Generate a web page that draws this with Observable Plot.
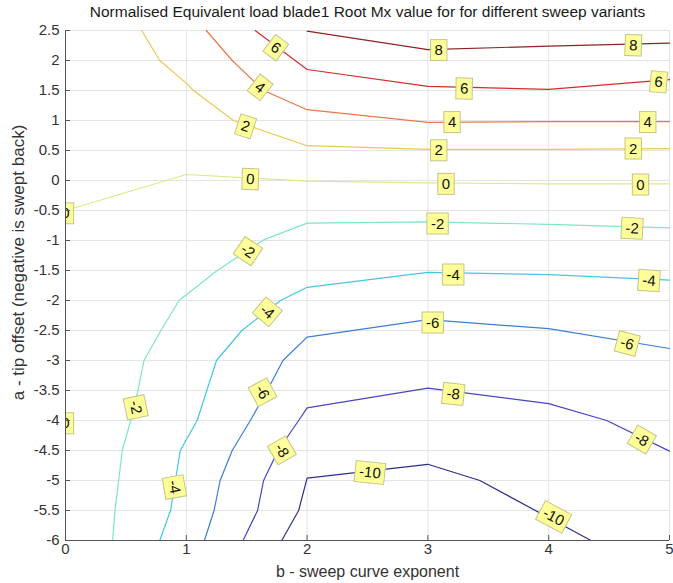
<!DOCTYPE html>
<html><head><meta charset="utf-8">
<script src="https://cdn.jsdelivr.net/npm/d3@7"></script>
<script src="https://cdn.jsdelivr.net/npm/@observablehq/plot@0.6"></script>
<style>
body{margin:0;background:#fff;font-family:"Liberation Sans",Arial,sans-serif;}
</style></head><body>
<div id="chart"></div>
<script>
// contour levels and colours
const levels = [8, 6, 4, 2, 0, -2, -4, -6, -8, -10];
const levelColors = ["#8c2424", "#d42c2c", "#e8784a", "#ecc850", "#d6ec8c", "#7ce6c6", "#44c6e2", "#3c7ed4", "#4646c2", "#2e2e8a"];

// contour polylines [b, a]
const c8 = [[2.0, 2.49], [3, 2.18], [4, 2.24], [5, 2.29]];
const c6 = [[1.57, 2.5], [2, 1.85], [3, 1.57], [4, 1.52], [5, 1.68]];
const c4 = [[1.165, 2.5], [1.38, 2.0], [1.64, 1.5], [2, 1.18], [3, 0.97], [4, 0.98], [5, 0.98]];
const c2 = [[0.63, 2.5], [0.78, 2.0], [0.99, 1.64], [1.06, 1.5], [1.39, 1.0], [2, 0.58], [3, 0.52], [4, 0.52], [5, 0.53]];
const c0 = [[0, -0.5], [1, 0.1], [2, -0.01], [3, -0.04], [4, -0.055], [5, -0.055]];
const cm2 = [[0.39, -6], [0.41, -5.5], [0.44, -5], [0.47, -4.5], [0.54, -4], [0.6, -3.5], [0.65, -3], [0.79, -2.5], [0.94, -2], [1.256, -1.5], [1.64, -0.99], [2, -0.71], [3, -0.69], [4, -0.73], [5, -0.79]];
const cm4 = [[0.78, -6], [0.87, -5.5], [0.91, -5], [0.95, -4.5], [1.09, -4], [1.17, -3.5], [1.25, -3], [1.46, -2.5], [1.78, -2], [2, -1.78], [3, -1.53], [4, -1.57], [5, -1.66]];
const cm6 = [[1.15, -6], [1.23, -5.5], [1.28, -5], [1.38, -4.5], [1.53, -4], [1.67, -3.5], [1.8, -3], [2, -2.61], [3, -2.32], [4, -2.47], [5, -2.8]];
const cm8 = [[1.47, -6], [1.59, -5.5], [1.64, -5], [1.76, -4.5], [1.93, -4], [2, -3.79], [3, -3.46], [4, -3.72], [4.48, -4], [5, -4.51]];
const cm10 = [[1.79, -6], [1.93, -5.5], [2, -4.96], [3, -4.73], [3.43, -5], [4.35, -6]];
const contourPaths = [c8, c6, c4, c2, c0, cm2, cm4, cm6, cm8, cm10];

// inline labels
const labelLevel = [8, 8, 6, 6, 6, 4, 4, 4, 2, 2, 2, 0, 0, 0, 0, 0, -2, -2, -2, -2, -4, -4, -4, -4, -6, -6, -6, -8, -8, -8, -10, -10];
const labelX = [3.09, 4.70, 1.74, 3.30, 4.91, 1.61, 3.20, 4.82, 1.49, 3.09, 4.70, 1.53, 3.15, 4.76, 0, 0, 1.51, 3.08, 4.69, 0.58, 1.67, 3.21, 4.83, 0.90, 1.63, 3.04, 4.65, 1.79, 3.21, 4.77, 2.52, 4.04];
const labelY = [2.17, 2.25, 2.21, 1.53, 1.64, 1.55, 0.97, 0.97, 0.90, 0.50, 0.53, 0.02, -0.06, -0.07, -0.55, -4.05, -1.18, -0.72, -0.80, -3.78, -2.19, -1.57, -1.67, -5.11, -3.53, -2.37, -2.72, -4.50, -3.56, -4.32, -4.87, -5.61];
const labelAngle = [0, 2, 37, 1, 5, 38, 0, 0, 18, 0, 0, 2, 0, 0, 0, 0, 34, 0, 3, 78, 40, 0, 4, 80, 62, 0, 15, 60, 6, 30, 6, 28];

// axes and texts
const xTicks = [0, 1, 2, 3, 4, 5];
const yTicks = [-6, -5.5, -5, -4.5, -4, -3.5, -3, -2.5, -2, -1.5, -1, -0.5, 0, 0.5, 1, 1.5, 2, 2.5];
const title = "Normalised Equivalent load blade1 Root Mx value for for different sweep variants";
const xLabel = "b - sweep curve exponent";
const yLabel = "a - tip offset (negative is swept back)";

const lineData = levels.flatMap((lv, i) => contourPaths[i].map(([x, y]) => ({level: lv, x, y})));
const labels = labelLevel.map((lv, i) => ({level: lv, x: labelX[i], y: labelY[i], angle: labelAngle[i]}));

const font = "Liberation Sans, Arial, sans-serif";
const chart = Plot.plot({
  width: 673,
  height: 583,
  marginLeft: 65,
  marginRight: 4,
  marginTop: 30,
  marginBottom: 43,
  style: {fontFamily: font, fontSize: "15px", background: "#fff"},
  x: {domain: [0, 5]},
  y: {domain: [-6, 2.5]},
  color: {type: "ordinal", domain: levels, range: levelColors},
  marks: [
    Plot.ruleX(xTicks.slice(1), {stroke: "#e4e4e4"}),
    Plot.ruleY(yTicks, {stroke: "#e4e4e4"}),
    Plot.line(lineData, {x: "x", y: "y", z: "level", stroke: "level", strokeWidth: 1.2}),
    Plot.text(labels, {x: "x", y: "y", text: d => String(d.level), rotate: "angle", fontSize: 15, fill: "#111", clip: true}),
    Plot.ruleX([0], {stroke: "#555"}),
    Plot.ruleY([-6], {stroke: "#555"}),
    Plot.axisY({ticks: yTicks, tickSize: 5, dx: 5, tickPadding: 6, tickFormat: d => String(d), label: null, fontSize: 15, color: "#333", stroke: "#555"}),
    Plot.axisX({ticks: xTicks, tickSize: 5, dy: -5, tickPadding: 3, tickFormat: d => String(d), label: null, fontSize: 15, color: "#333", stroke: "#555"}),
    Plot.text([yLabel], {frameAnchor: "left", text: d => d, rotate: -90, dx: -47, dy: -23, textAnchor: "middle", lineAnchor: "middle", fontSize: 17, fill: "#333"}),
    Plot.text([xLabel], {frameAnchor: "bottom", text: d => d, dy: 31, textAnchor: "middle", lineAnchor: "middle", fontSize: 16, fill: "#333"}),
    Plot.text([title], {frameAnchor: "top", text: d => d, dy: -18, textAnchor: "middle", lineAnchor: "middle", fontSize: 15.5, fill: "#1a1a1a"})
  ]
});
document.getElementById("chart").append(chart);

// yellow boxes behind inline labels: find the group holding the label texts
let g = null;
for (const grp of chart.querySelectorAll("g")) {
  const kids = Array.from(grp.children);
  if (kids.length === labels.length && kids.every(k => k.tagName.toLowerCase() === "text") && kids[0].textContent === String(labels[0].level)) { g = grp; break; }
}
if (g) {
  for (const t of Array.from(g.querySelectorAll("text"))) {
    const b = t.getBBox();
    const r = document.createElementNS("http://www.w3.org/2000/svg", "rect");
    r.setAttribute("x", b.x - 4);
    r.setAttribute("y", b.y - 1.5);
    r.setAttribute("width", b.width + 8);
    r.setAttribute("height", b.height + 4);
    const tr = t.getAttribute("transform");
    if (tr) r.setAttribute("transform", tr);
    r.setAttribute("fill", "#ffff99");
    r.setAttribute("stroke", "#c4c48a");
    r.setAttribute("stroke-width", "1");
    g.insertBefore(r, t);
  }
}
</script>
</body></html>
